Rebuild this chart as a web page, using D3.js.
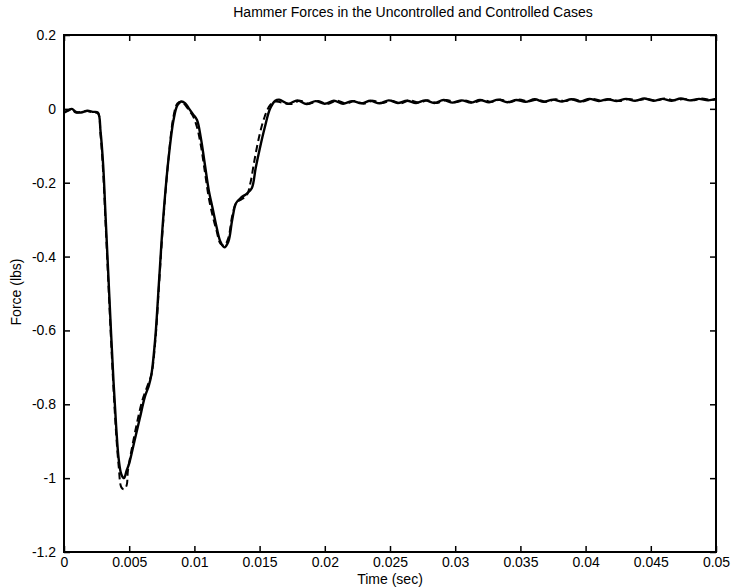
<!DOCTYPE html>
<html><head><meta charset="utf-8">
<script src="https://cdn.jsdelivr.net/npm/d3@7"></script>
<style>body{margin:0;background:#fff}svg{display:block}text{font-family:"Liberation Sans",Arial,sans-serif;fill:#000}</style>
</head><body><svg id="c" width="740" height="588"></svg>
<script>
const titleText = "Hammer Forces in the Uncontrolled and Controlled Cases";
const xLabel = "Time (sec)";
const yLabel = "Force (lbs)";
const xTicks = [0,0.005,0.01,0.015,0.02,0.025,0.03,0.035,0.04,0.045,0.05];
const xTickLabels = ["0","0.005","0.01","0.015","0.02","0.025","0.03","0.035","0.04","0.045","0.05"];
const yTicks = [0.2,0,-0.2,-0.4,-0.6,-0.8,-1,-1.2];
const yTickLabels = ["0.2","0","-0.2","-0.4","-0.6","-0.8","-1","-1.2"];

// solid (uncontrolled)
const timeSolid = [0,0.0003,0.0006,0.0009,0.0013,0.0018,0.0022,0.0026,0.0028,0.0030,0.0032,0.0034,0.0036,0.0038,0.0040,0.0042,0.0044,0.0046,0.0048,0.0050,0.0054,0.0058,0.0062,0.0065,0.0067,0.0070,0.0073,0.0076,0.0080,0.0084,0.0087,0.0090,0.0093,0.0096,0.0099,0.0102,0.0105,0.0108,0.0111,0.0114,0.0117,0.0120,0.0123,0.0126,0.0129,0.0132,0.0136,0.0140,0.0144,0.0147,0.0150,0.0154,0.0158,0.0162,0.0165,
0.0172,0.0179,0.0186,0.0193,0.0200,0.0207,0.0214,0.0221,0.0228,0.0235,0.0242,0.0249,0.0256,0.0263,0.0270,0.0277,0.0284,0.0291,0.0298,0.0305,0.0312,0.0319,0.0326,0.0333,0.0340,0.0347,0.0354,0.0361,0.0368,0.0375,0.0382,0.0389,0.0396,0.0403,0.0410,0.0417,0.0424,0.0431,0.0438,0.0445,0.0452,0.0459,0.0466,0.0473,0.0480,0.0487,0.0494,0.0500];
const forceSolid = [-0.01,-0.005,0.0,-0.008,-0.01,-0.005,-0.008,-0.01,-0.06,-0.15,-0.30,-0.45,-0.60,-0.74,-0.86,-0.95,-0.99,-1.0,-0.98,-0.96,-0.90,-0.84,-0.78,-0.75,-0.72,-0.62,-0.46,-0.30,-0.14,-0.03,0.01,0.02,0.015,0.0,-0.015,-0.03,-0.08,-0.15,-0.22,-0.27,-0.32,-0.36,-0.375,-0.36,-0.30,-0.255,-0.24,-0.23,-0.215,-0.16,-0.11,-0.05,0.0,0.022,0.025,
0.014,0.023,0.013,0.021,0.014,0.022,0.014,0.021,0.015,0.022,0.015,0.023,0.016,0.022,0.016,0.023,0.016,0.024,0.017,0.023,0.017,0.024,0.018,0.025,0.018,0.024,0.019,0.026,0.019,0.025,0.020,0.026,0.020,0.027,0.021,0.026,0.021,0.027,0.022,0.028,0.022,0.027,0.022,0.028,0.023,0.027,0.023,0.027];

// dashed (controlled)
const timeDashed = [0,0.0003,0.0006,0.0009,0.0013,0.0018,0.0022,0.0026,0.0028,0.0030,0.0032,0.0034,0.0036,0.0038,0.0040,0.0042,0.0044,0.0046,0.0048,0.0049,0.0052,0.0056,0.0060,0.0064,0.0067,0.0070,0.0073,0.0076,0.0080,0.0084,0.0087,0.0090,0.0093,0.0096,0.0099,0.0102,0.0105,0.0108,0.0111,0.0114,0.0117,0.0120,0.0123,0.0126,0.0129,0.0132,0.0136,0.0140,0.0143,0.0146,0.0150,0.0154,0.0158,0.0162,0.0166,
0.0174,0.0181,0.0188,0.0195,0.0202,0.0209,0.0216,0.0223,0.0230,0.0237,0.0244,0.0251,0.0258,0.0265,0.0272,0.0279,0.0286,0.0293,0.0300,0.0307,0.0314,0.0321,0.0328,0.0335,0.0342,0.0349,0.0356,0.0363,0.0370,0.0377,0.0384,0.0391,0.0398,0.0405,0.0412,0.0419,0.0426,0.0433,0.0440,0.0447,0.0454,0.0461,0.0468,0.0475,0.0482,0.0489,0.0496,0.0500];
const forceDashed = [-0.01,-0.004,-0.002,-0.01,-0.008,-0.006,-0.01,-0.012,-0.07,-0.17,-0.32,-0.47,-0.62,-0.76,-0.88,-0.97,-1.025,-1.03,-1.02,-0.98,-0.92,-0.85,-0.79,-0.75,-0.72,-0.63,-0.47,-0.31,-0.14,-0.02,0.015,0.02,0.01,-0.005,-0.02,-0.05,-0.10,-0.17,-0.24,-0.29,-0.33,-0.365,-0.37,-0.35,-0.29,-0.255,-0.245,-0.235,-0.20,-0.14,-0.07,-0.02,0.01,0.02,0.018,
0.013,0.022,0.014,0.021,0.013,0.022,0.015,0.021,0.014,0.022,0.016,0.022,0.015,0.023,0.017,0.023,0.016,0.024,0.018,0.023,0.017,0.024,0.019,0.025,0.018,0.025,0.020,0.025,0.019,0.026,0.021,0.026,0.020,0.027,0.022,0.026,0.021,0.027,0.023,0.027,0.022,0.028,0.023,0.027,0.023,0.028,0.024,0.026];

const W = 740, H = 588;
const m = {left: 64, right: 716, top: 35, bottom: 552};
const svg = d3.select("#c");
const x = d3.scaleLinear().domain([0, 0.05]).range([m.left, m.right]);
const y = d3.scaleLinear().domain([-1.2, 0.2]).range([m.bottom, m.top]);

const g = svg.append("g");
const line = d3.line().x(d => x(d[0])).y(d => y(d[1])).curve(d3.curveCatmullRom.alpha(0.5));
const solid = timeSolid.map((t, i) => [t, forceSolid[i]]);
const dashed = timeDashed.map((t, i) => [t, forceDashed[i]]);

g.append("path").datum(dashed).attr("d", line).attr("fill", "none")
  .attr("stroke", "#000").attr("stroke-width", 2).attr("stroke-dasharray", "7,4");
g.append("path").datum(solid).attr("d", line).attr("fill", "none")
  .attr("stroke", "#000").attr("stroke-width", 2.4);

// axes (inward ticks, all four sides)
const tl = 6;
const fmtX = (d, i) => xTickLabels[i];
const fmtY = (d, i) => yTickLabels[i];
const gb = svg.append("g").attr("transform", `translate(0,${m.bottom})`)
  .call(d3.axisBottom(x).tickValues(xTicks).tickFormat(fmtX).tickSizeInner(-tl).tickSizeOuter(0).tickPadding(5));
const gt = svg.append("g").attr("transform", `translate(0,${m.top})`)
  .call(d3.axisTop(x).tickValues(xTicks).tickFormat("").tickSizeInner(-tl).tickSizeOuter(0));
const gl = svg.append("g").attr("transform", `translate(${m.left},0)`)
  .call(d3.axisLeft(y).tickValues(yTicks).tickFormat(fmtY).tickSizeInner(-tl).tickSizeOuter(0).tickPadding(8));
const gr = svg.append("g").attr("transform", `translate(${m.right},0)`)
  .call(d3.axisRight(y).tickValues(yTicks).tickFormat("").tickSizeInner(-tl).tickSizeOuter(0));
[gb, gt, gl, gr].forEach(a => {
  a.select(".domain").remove();
  a.selectAll("line").attr("stroke", "#000").attr("stroke-width", 1.5);
  a.selectAll("text").attr("font-size", 14).attr("font-family", '"Liberation Sans",Arial,sans-serif');
});
svg.append("rect").attr("x", m.left).attr("y", m.top).attr("width", m.right - m.left)
  .attr("height", m.bottom - m.top).attr("fill", "none").attr("stroke", "#000").attr("stroke-width", 2);

svg.append("text").attr("x", 413).attr("y", 17).attr("text-anchor", "middle")
  .attr("font-size", 14).text(titleText);
svg.append("text").attr("x", 390).attr("y", 584).attr("text-anchor", "middle")
  .attr("font-size", 14).text(xLabel);
svg.append("text").attr("transform", "translate(21,292) rotate(-90)").attr("text-anchor", "middle")
  .attr("font-size", 14).text(yLabel);
</script></body></html>
